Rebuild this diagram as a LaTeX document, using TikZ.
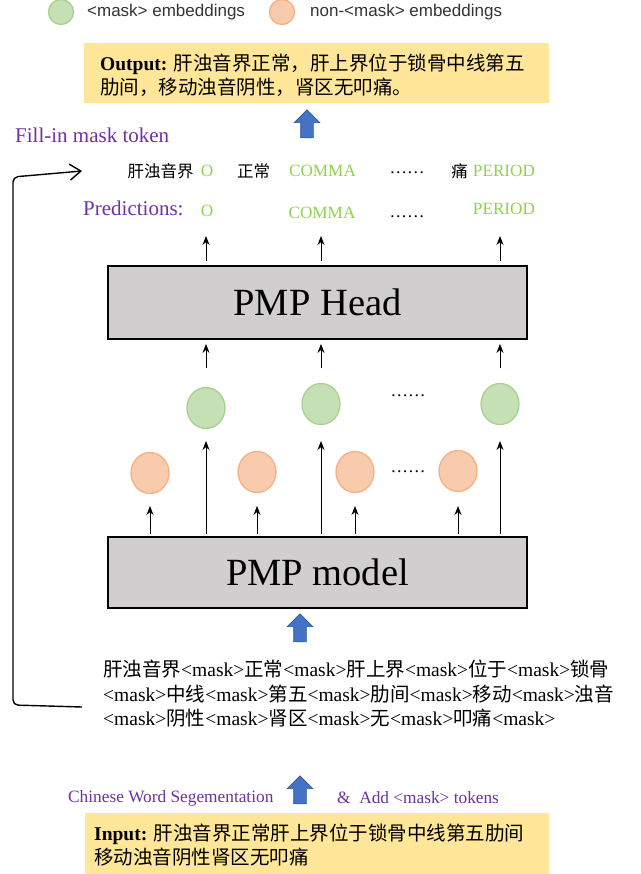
\documentclass[tikz,border=0pt]{standalone}
\usepackage{fontspec}
\setmainfont{Liberation Serif}
\newfontfamily\cjk{Noto Sans CJK SC}
\newfontfamily\legendfont{Liberation Sans}
\usetikzlibrary{arrows.meta,shapes.geometric,shapes.arrows}

\definecolor{boxyellow}{HTML}{FFE699}
\definecolor{pmpgray}{HTML}{D0CECE}
\definecolor{maskfill}{HTML}{C5E0B4}
\definecolor{maskline}{HTML}{A9D18E}
\definecolor{plainfill}{HTML}{F8CBAD}
\definecolor{plainline}{HTML}{F4B183}
\definecolor{predgreen}{HTML}{92D050}
\definecolor{notepurple}{HTML}{7030A0}
\definecolor{arrowblue}{HTML}{4472C4}
\definecolor{arrowedge}{HTML}{2F5597}

\newcommand{\zh}[1]{{\cjk #1}}
\newcommand{\mk}{<mask>}

\begin{document}
\begin{tikzpicture}[x=1pt,y=-1pt,inner sep=0pt,
	arr/.style={-{Stealth[length=9pt,width=7pt]},line width=0.9pt},
	fb/.style={-{Straight Barb[length=11pt,width=16pt]},line width=1.4pt},
	ybox/.style={fill=boxyellow},
	pmpbox/.style={draw,line width=1.8pt,fill=pmpgray,minimum width=419,font=\fontsize{38.5}{42}\selectfont},
	maskemb/.style={ellipse,draw=maskline,fill=maskfill,line width=1.3pt,minimum width=38,minimum height=41},
	plainemb/.style={ellipse,draw=plainline,fill=plainfill,line width=1.3pt,minimum width=38,minimum height=41},
	blockup/.style={single arrow,shape border rotate=90,fill=arrowblue,draw=arrowedge,line width=0.6pt,
		minimum height=28,minimum width=25,single arrow head extend=6.5pt,inner sep=6pt},
	bodytxt/.style={font=\fontsize{19.5}{24.5}\selectfont},
	legtxt/.style={font=\legendfont\fontsize{17}{20}\selectfont,text=black!80},
	purp/.style={text=notepurple,font=\fontsize{21}{24}\selectfont},
	purpsmall/.style={text=notepurple,font=\fontsize{17.3}{20}\selectfont},
	pred/.style={text=predgreen,font=\fontsize{17.2}{20}\selectfont},
	zhtok/.style={font=\cjk\fontsize{16.5}{20}\selectfont},
	dots/.style={font=\fontsize{17.5}{20}\selectfont}]
	\useasboundingbox (0,0) rectangle (640,874);

	%legend
	\node[maskemb,minimum width=25,minimum height=25] (legmask) at (61,12) {};
	\node[legtxt,anchor=west] (legmasktxt) at (87,12) {<mask> embeddings};
	\node[plainemb,minimum width=25,minimum height=25] (legplain) at (282,12) {};
	\node[legtxt,anchor=west] (legplaintxt) at (310,12) {non-<mask> embeddings};

	%output
	\node[ybox,minimum width=465,minimum height=60] (outbox) at (316.5,73) {};
	\node[bodytxt,anchor=west,align=left] (outtxt) at (100,75.5)
		{\textbf{Output:} \zh{肝浊音界正常，肝上界位于锁骨中线第五}\\\zh{肋间，移动浊音阴性，肾区无叩痛。}};
	\node[blockup] (upout) at (307,127) {};

	%filled-in tokens
	\node[purp,anchor=west] (fillin) at (15,135) {Fill-in mask token};
	\node[zhtok] (t1) at (160.5,171) {肝浊音界};
	\node[pred] (t1p) at (207,171) {O};
	\node[zhtok] (t2) at (253.5,171) {正常};
	\node[pred] (t2p) at (322.5,171) {COMMA};
	\node[dots] (tdots) at (407,173) {……};
	\node[zhtok] (t3) at (459.5,171) {痛};
	\node[pred] (t3p) at (504,171) {PERIOD};

	%predictions
	\node[purp,anchor=west] (predlbl) at (83,208) {Predictions:};
	\node[pred] (pO) at (207,211) {O};
	\node[pred] (pC) at (322,213) {COMMA};
	\node[dots] (pdots) at (407,217) {……};
	\node[pred] (pP) at (504,209) {PERIOD};

	%PMP Head
	\node[pmpbox,minimum height=73] (head) at (317.5,302.5) {PMP Head};

	%embeddings
	\node[maskemb] (g1) at (206,408) {};
	\node[maskemb] (g2) at (321,404) {};
	\node[maskemb] (g3) at (500,404) {};
	\node[dots] (gdots) at (408,396) {……};
	\node[plainemb] (o1) at (150,473) {};
	\node[plainemb] (o2) at (257,472) {};
	\node[plainemb] (o3) at (355,472) {};
	\node[plainemb] (o4) at (458,471) {};
	\node[dots] (odots) at (408,472) {……};

	%PMP model
	\node[pmpbox,minimum height=71] (model) at (317.5,572.5) {PMP model};

	%arrows
	\coordinate (predtips) at (0,236);
	\coordinate (headin) at (0,368);
	\coordinate (gtips) at (0,441);
	\coordinate (otips) at (0,506);
	\foreach \n in {g1,g2,g3}{
		\draw[arr,shorten <=4pt] (head.north -| \n) -- (\n |- predtips);
		\draw[arr,shorten >=4pt] (\n |- headin) -- (head.south -| \n);
		\draw[arr,shorten <=2pt] (model.north -| \n) -- (\n |- gtips);
	}
	\foreach \n in {o1,o2,o3,o4}
		\draw[arr,shorten <=2pt] (model.north -| \n) -- (\n |- otips);

	%masked input
	\node[blockup] (upmodel) at (300,631) {};
	\node[bodytxt,anchor=west,align=left] (masked) at (103,694)
		{\zh{肝浊音界}\mk\zh{正常}\mk\zh{肝上界}\mk\zh{位于}\mk\zh{锁骨}\\
		\mk\zh{中线}\mk\zh{第五}\mk\zh{肋间}\mk\zh{移动}\mk\zh{浊音}\\
		\mk\zh{阴性}\mk\zh{肾区}\mk\zh{无}\mk\zh{叩痛}\mk};

	%feedback loop
	\coordinate (fbfrom) at (82,707);
	\coordinate (fbto) at (82,171);
	\draw[fb,rounded corners=5pt] (fbfrom) -- (13,705) -- (13,177) -- (fbto);

	%input
	\node[purpsmall,anchor=west] (cws) at (68,798) {Chinese Word Segementation};
	\node[blockup] (upin) at (300,793) {};
	\node[purpsmall,anchor=west] (addmask) at (337,798) {\&\ \ Add <mask> tokens};
	\node[ybox,minimum width=464,minimum height=61] (inbox) at (317,843.5) {};
	\node[bodytxt,anchor=west,align=left] (intxt) at (94,845)
		{\textbf{Input:} \zh{肝浊音界正常肝上界位于锁骨中线第五肋间}\\\zh{移动浊音阴性肾区无叩痛}};
\end{tikzpicture}
\end{document}
